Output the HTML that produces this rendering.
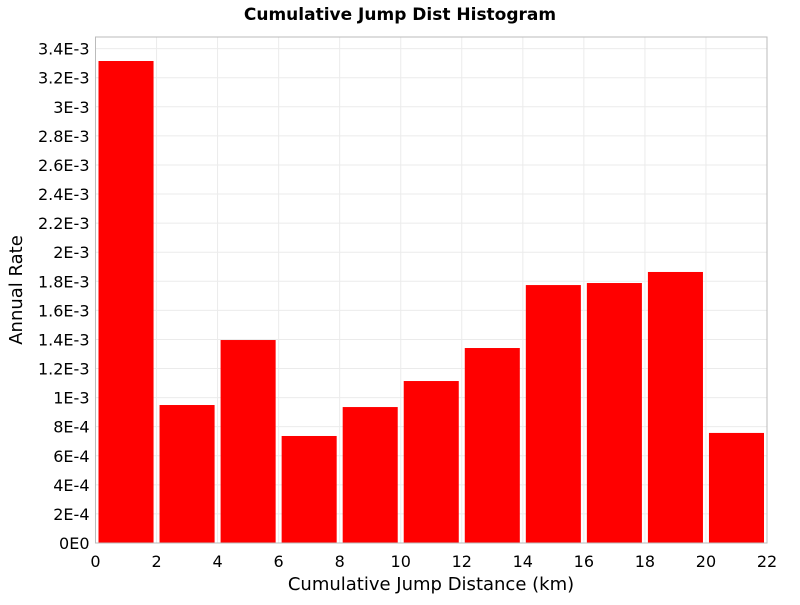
<!DOCTYPE html>
<html><head><meta charset="utf-8"><style>
body{margin:0;background:#fff;}
svg text{font-family:"DejaVu Sans","Liberation Sans",sans-serif;}
</style></head><body>
<svg id="c" width="800" height="600" xmlns="http://www.w3.org/2000/svg">
<text x="400" y="20" text-anchor="middle" font-size="17" font-weight="bold">Cumulative Jump Dist Histogram</text>
<g id="grid"></g><g id="bars"></g><g id="axes"></g>
<text x="431" y="590" text-anchor="middle" font-size="18">Cumulative Jump Distance (km)</text>
<text transform="translate(22,290) rotate(-90)" text-anchor="middle" font-size="18">Annual Rate</text>
</svg>
<script>
const binStarts=[0,2,4,6,8,10,12,14,16,18,20];
const rates=[3.315e-3,0.949e-3,1.396e-3,0.736e-3,0.935e-3,1.114e-3,1.341e-3,1.774e-3,1.788e-3,1.864e-3,0.757e-3];
const xTicks=[0,2,4,6,8,10,12,14,16,18,20,22];
const yTickLabels=["0E0","2E-4","4E-4","6E-4","8E-4","1E-3","1.2E-3","1.4E-3","1.6E-3","1.8E-3","2E-3","2.2E-3","2.4E-3","2.6E-3","2.8E-3","3E-3","3.2E-3","3.4E-3"];
const binWidth=2;
const L=95.5,R=767,T=37,B=543;
const xs=v=>L+(v/22)*(R-L);
const ys=v=>B-(v/0.2e-3)*29.08;
const NS="http://www.w3.org/2000/svg";
function mk(p,tag,at){const e=document.createElementNS(NS,tag);for(const k in at)e.setAttribute(k,at[k]);p.appendChild(e);return e;}
const g=document.getElementById('grid'),bg=document.getElementById('bars'),ax=document.getElementById('axes');
xTicks.forEach(t=>{const l=mk(g,'line',{x1:xs(t),x2:xs(t),y1:T,y2:B,stroke:'#ebebeb'});});
yTickLabels.forEach((s,i)=>{const y=ys(i*0.2e-3);const l=mk(g,'line',{x1:L,x2:R,y1:y,y2:y,stroke:'#ebebeb'});
const t=mk(ax,'text',{x:L-6,y:y+6,'text-anchor':'end','font-size':16});t.textContent=s;});
binStarts.forEach((s,i)=>{const x0=xs(s)+3,x1=xs(s+binWidth)-3;const r=mk(bg,'rect',{x:x0,y:ys(rates[i]),width:x1-x0,height:B-ys(rates[i]),fill:'#ff0000'});});
const f=mk(ax,'rect',{x:L,y:T,width:R-L,height:B-T,fill:'none',stroke:'#bbbbbb'});
xTicks.forEach(t=>{const e=mk(ax,'text',{x:xs(t),y:567,'text-anchor':'middle','font-size':16});e.textContent=t;});
</script>
</body></html>
